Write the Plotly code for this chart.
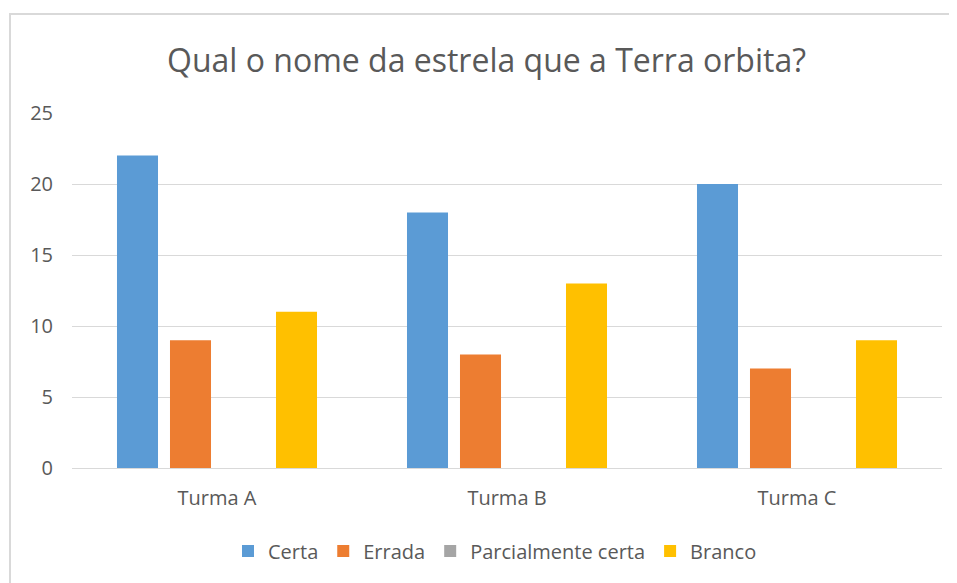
import plotly.graph_objects as go

categories = ["Turma A", "Turma B", "Turma C"]
series_names = ["Certa", "Errada", "Parcialmente certa", "Branco"]
certa = [22, 18, 20]
errada = [9, 8, 7]
parcial = [0, 0, 0]
branco = [11, 13, 9]
y_ticks = [0, 5, 10, 15, 20, 25]

colors = ["#5B9BD5", "#ED7D31", "#A5A5A5", "#FFC000"]
values = [certa, errada, parcial, branco]

fig = go.Figure()
for name, vals, col in zip(series_names, values, colors):
    fig.add_trace(go.Bar(x=categories, y=vals, name=name, marker=dict(color=col, line=dict(width=0))))

# page body has an 8px margin; figure coords = screen coords - 8
OFF = 8
W, H = 957, 583
ml, mt = 72 - OFF, 113 - OFF
mr = W - (942 - OFF)
mb = H - (468 - OFF)
pw, ph = W - ml - mr, H - mt - mb

def sx(px):
    return (px - OFF - ml) / pw

def sy(py):
    return (H - mb - (py - OFF)) / ph

fig.update_layout(
    width=W, height=H,
    margin=dict(l=ml, r=mr, t=mt, b=mb),
    paper_bgcolor="white", plot_bgcolor="white",
    font=dict(family="Open Sans", color="#595959", size=20),
    title=dict(text="Qual o nome da estrela que a Terra orbita?", x=0.5, xanchor="center",
               y=1 - (61 - OFF) / H, yanchor="middle",
               font=dict(size=32, color="#595959", family="Open Sans")),
    barmode="group", bargap=0.269, bargroupgap=0.226,
    showlegend=True,
    legend=dict(orientation="h", x=sx(495), xanchor="center",
                y=sy(551), yanchor="middle",
                font=dict(size=20, color="#595959"), itemwidth=30,
                traceorder="normal"),
    xaxis=dict(showgrid=False, showline=False, ticks="", tickfont=dict(size=20, color="#595959"),
               ticklabelstandoff=16),
    yaxis=dict(range=[0, 25], tickvals=y_ticks, showgrid=True, gridcolor="#D9D9D9", gridwidth=1,
               zeroline=True, zerolinecolor="#D9D9D9", zerolinewidth=1, showline=False, ticks="",
               tickfont=dict(size=20, color="#595959"), ticklabelstandoff=18),
    shapes=[dict(type="rect", xref="paper", yref="paper",
                 x0=sx(10), x1=sx(990),
                 y0=sy(620), y1=sy(14),
                 line=dict(color="#D9D9D9", width=2), fillcolor="rgba(0,0,0,0)", layer="below")],
)

fig.write_html("out.html")
